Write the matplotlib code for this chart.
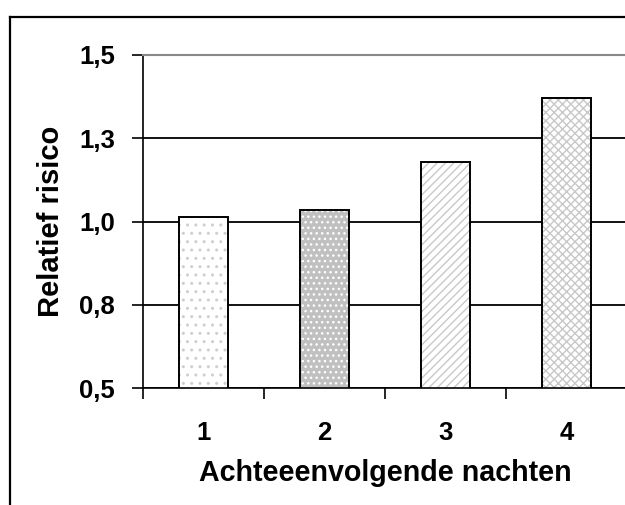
import matplotlib
matplotlib.use("Agg")
import matplotlib.pyplot as plt
from matplotlib.lines import Line2D

plt.rcParams['font.family'] = ['Liberation Sans', 'DejaVu Sans']
plt.rcParams['font.weight'] = 'bold'
plt.rcParams['axes.labelweight'] = 'bold'
plt.rcParams['hatch.linewidth'] = 1.0

# Relative risk by number of consecutive nights
nights = ['1', '2', '3', '4']
relative_risk = [1.015, 1.035, 1.18, 1.37]
y_ticks = [0.5, 0.75, 1.0, 1.25, 1.5]
y_tick_labels = ['0,5', '0,8', '1,0', '1,3', '1,5']

face_colors = ['white', '#c0c0c0', 'white', 'white']
hatch_colors = ['#cfcfcf', 'white', '#c8c8c8', '#c8c8c8']
hatches = ['..', '...', '////', 'xxxx']

fig = plt.figure(figsize=(6.25, 5.05), dpi=100)
W, H = 625, 505
ax = fig.add_axes([143 / W, 1 - 388 / H, 484 / W, 333 / H])

x = list(range(len(nights)))
width = 0.41
for i in x:
    ax.bar(i, relative_risk[i], width, bottom=0, color=face_colors[i],
           hatch=hatches[i], edgecolor=hatch_colors[i], linewidth=0, zorder=2)
ax.bar(x, relative_risk, width, fill=False, edgecolor='black',
       linewidth=1.4, zorder=3)

ax.set_xlim(-0.5, len(nights) - 0.5)
ax.set_ylim(0.5, 1.5)

ax.set_yticks(y_ticks)
ax.set_yticklabels(y_tick_labels)
ax.set_xticks(x)
ax.set_xticklabels(nights)
ax.set_xticks([i - 0.5 for i in x], minor=True)
ax.tick_params(axis='x', which='major', length=0, pad=24, labelsize=18.5)
ax.tick_params(axis='x', which='minor', length=8, width=1.2, direction='out')
ax.tick_params(axis='y', length=8, width=1.2, direction='out', pad=12,
               labelsize=18.5)

ax.grid(axis='y', color='black', linewidth=1.3, zorder=1)
ax.set_axisbelow(True)

ax.spines['right'].set_visible(False)
ax.spines['top'].set_color('#888888')
ax.spines['top'].set_linewidth(1.5)
ax.spines['left'].set_linewidth(1.2)
ax.spines['bottom'].set_linewidth(1.2)

ax.set_xlabel('Achteeenvolgende nachten', fontsize=20.6, labelpad=10)
ax.set_ylabel('Relatief risico', fontsize=21, labelpad=10)

# outer chart frame
fx = 10 / W
fy = 1 - 17 / H
fig.add_artist(Line2D([fx, fx], [0, fy], transform=fig.transFigure,
                      color='black', linewidth=1.6))
fig.add_artist(Line2D([fx, 1], [fy, fy], transform=fig.transFigure,
                      color='black', linewidth=1.6))

fig.savefig('out.png', dpi=100)
